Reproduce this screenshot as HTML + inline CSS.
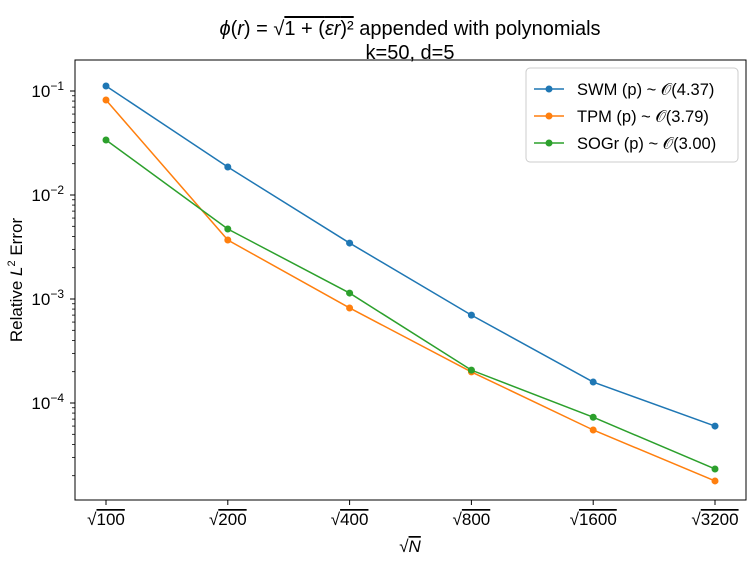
<!DOCTYPE html>
<html><head><meta charset="utf-8"><style>
body{margin:0;background:#fff;}
svg{font-family:"Liberation Sans","DejaVu Sans",sans-serif;}
</style></head><body>
<svg id="chart" width="755" height="563">
<g>
<text x="410" y="35" font-size="20" text-anchor="middle"><tspan font-style="italic">ϕ</tspan>(<tspan font-style="italic">r</tspan>) = √<tspan text-decoration="overline">1 + (<tspan font-style="italic">εr</tspan>)²</tspan> appended with polynomials</text>
<text x="410" y="59" font-size="20" text-anchor="middle">k=50, d=5</text>
</g>
<rect x="75" y="60" width="671" height="440" fill="none" stroke="#000" stroke-width="1"/>
<g id="xaxis"></g>
<g id="yaxis"></g>
<text x="410" y="552" font-size="17" text-anchor="middle">√<tspan font-style="italic" text-decoration="overline">N</tspan></text>
<text transform="translate(22,280) rotate(-90)" font-size="17" text-anchor="middle">Relative <tspan font-style="italic">L</tspan><tspan font-size="11" dy="-7">2</tspan><tspan dy="7"> Error</tspan></text>
<g id="series"></g>
<g>
<rect x="526" y="68" width="212" height="94" rx="4" fill="#fff" stroke="#ccc"/>
<g><line x1="534" y1="89" x2="564" y2="89" stroke="#1f77b4" stroke-width="1.5"/><circle cx="549" cy="89" r="3.5" fill="#1f77b4"/><text x="577" y="95" font-size="16.5">SWM (p) ~ 𝒪(4.37)</text></g>
<g><line x1="534" y1="116" x2="564" y2="116" stroke="#ff7f0e" stroke-width="1.5"/><circle cx="549" cy="116" r="3.5" fill="#ff7f0e"/><text x="577" y="122" font-size="16.5">TPM (p) ~ 𝒪(3.79)</text></g>
<g><line x1="534" y1="143" x2="564" y2="143" stroke="#2ca02c" stroke-width="1.5"/><circle cx="549" cy="143" r="3.5" fill="#2ca02c"/><text x="577" y="149" font-size="16.5">SOGr (p) ~ 𝒪(3.00)</text></g>
</g>
</svg>
<script>
const categories=[100,200,400,800,1600,3200];
const swm=[0.1117,0.0186,0.00345,7.0e-4,1.59e-4,6.0e-5];
const tpm=[0.0819,3.69e-3,8.2e-4,1.99e-4,5.5e-5,1.78e-5];
const sogr=[0.0338,4.71e-3,1.14e-3,2.07e-4,7.3e-5,2.32e-5];
const yTickExps=[-1,-2,-3,-4];
const NS="http://www.w3.org/2000/svg";
function xScale(i){return 106+i*121.8;}
function yScale(v){return 91+(-1-Math.log10(v))*104;}
function mk(t,a,p){const e=document.createElementNS(NS,t);for(const k in a)e.setAttribute(k,a[k]);p.appendChild(e);return e;}
const xa=document.getElementById('xaxis');
categories.forEach((c,i)=>{
 const x=xScale(i);
 const t=mk('line',{x1:x,y1:500,x2:x,y2:505,stroke:'#000'},xa);
 
 
 const tx=mk('text',{x:x,y:525,'font-size':17,'text-anchor':'middle'},xa);
 
 
 tx.innerHTML='√<tspan text-decoration="overline">'+c+'</tspan>';
});
const ya=document.getElementById('yaxis');
yTickExps.forEach(e=>{
 const y=yScale(Math.pow(10,e));
 const t=mk('line',{x1:70,y1:y,x2:75,y2:y,stroke:'#000'},ya);
 
 
 const tx=mk('text',{x:64,y:y+6,'font-size':17,'text-anchor':'end'},ya);
 
 
 tx.innerHTML='10<tspan font-size="12" dy="-7">'+(e<0?'−':'')+Math.abs(e)+'</tspan>';
});
for(let e=-1;e>=-5;e--){for(let m=2;m<=9;m++){const v=m*Math.pow(10,e);const y=yScale(v);if(y<60||y>500)continue;
 const t=mk('line',{x1:72,y1:y,x2:75,y2:y,stroke:'#000','stroke-width':0.8},ya);
 
 }}
const sg=document.getElementById('series');
[[swm,'#1f77b4','swm'],[tpm,'#ff7f0e','tpm'],[sogr,'#2ca02c','sogr']].forEach(([d,c,n])=>{
 const pl=mk('polyline',{points:d.map((v,i)=>xScale(i)+','+yScale(v)).join(' '),fill:'none',stroke:c,'stroke-width':1.5},sg);
 
 
 d.forEach((v,i)=>{const p=mk('circle',{cx:xScale(i),cy:yScale(v),r:3.5,fill:c},sg);
 
 });
});
</script>
</body></html>
